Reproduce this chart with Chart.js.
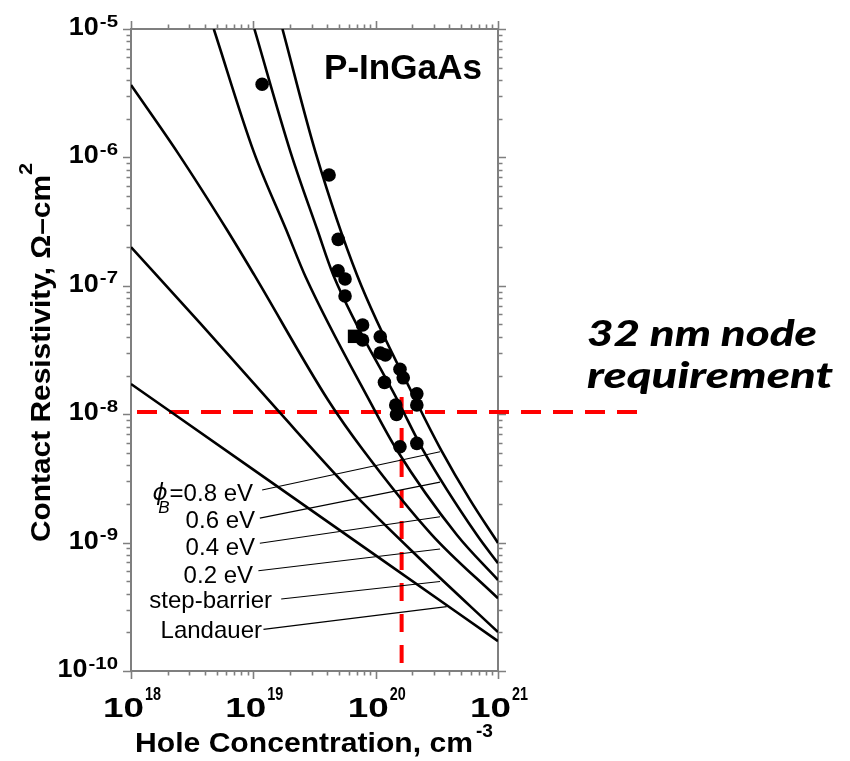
<!DOCTYPE html>
<html>
<head>
<meta charset="utf-8">
<script src="https://cdn.jsdelivr.net/npm/chart.js@4/dist/chart.umd.min.js"></script>
<style>
  html, body { margin: 0; padding: 0; background: #fff; }
</style>
</head>
<body>
<canvas id="chart" width="850" height="761"></canvas>
<script>
// hole concentration (cm^-3) and contact resistivity (ohm-cm^2)
const landauerN   = [1e18, 1e19, 1e20, 1e21];
const landauerRho = [1.72e-8, 3.70e-9, 7.96e-10, 1.71e-10];

const stepN   = [1e18, 3.67e18, 1.60e19, 6.18e19, 2.31e20, 1e21];
const stepRho = [2.0e-7, 5.13e-8, 1.06e-8, 2.57e-9, 7.45e-10, 2.01e-10];

const phi02N   = [1e18, 2.42e18, 6.10e18, 1.02e19, 4.08e19, 7.89e19, 2.88e20, 1e21];
const phi02Rho = [3.66e-6, 1.08e-6, 2.72e-7, 1.21e-7, 1.29e-8, 5.26e-9, 1.15e-9, 3.68e-10];

const phi04N   = [4.75e18, 1.01e19, 1.86e19, 2.69e19, 9.29e19, 1.49e20, 4.60e20, 1e21];
const phi04Rho = [1e-5, 1.10e-6, 2.72e-7, 1.16e-7, 1.18e-8, 5.26e-9, 1.15e-9, 5.11e-10];

const phi06N   = [1.02e19, 2.02e19, 3.34e19, 4.51e19, 1.58e20, 2.44e20, 6.71e20, 1e21];
const phi06Rho = [1e-5, 1.09e-6, 2.72e-7, 1.21e-7, 1.18e-8, 5.26e-9, 1.15e-9, 6.9e-10];

const phi08N   = [1.73e19, 3.23e19, 7.05e19, 2.22e20, 3.43e20, 5.91e20, 1e21];
const phi08Rho = [1e-5, 1.09e-6, 1.21e-7, 1.18e-8, 5.26e-9, 2.15e-9, 9.93e-10];

// measured contacts
const measN   = [1.18e19, 4.16e19, 4.94e19, 4.93e19, 5.62e19, 5.62e19, 7.82e19, 7.82e19, 1.09e20, 1.09e20,
                 1.20e20, 1.58e20, 1.68e20, 1.18e20, 2.17e20, 1.46e20, 2.17e20, 1.48e20, 1.58e20, 2.17e20];
const measRho = [3.71e-6, 7.30e-7, 2.30e-7, 1.31e-7, 1.13e-7, 8.33e-8, 4.95e-8, 3.78e-8, 4.01e-8, 3.00e-8,
                 2.89e-8, 2.24e-8, 1.92e-8, 1.77e-8, 1.44e-8, 1.18e-8, 1.18e-8, 9.95e-9, 5.58e-9, 5.93e-9];
const squareN   = [6.72e19];
const squareRho = [4.04e-8];

// 32 nm node requirement
const reqRho = 1.04e-8;
const reqN = 1.63e20;
const reqLineN = [1e18, 1.53e22];
const reqLineRho = [1.36e-8, 1.15e-10];

// curve labels and their leader lines
const curveLabels = ['=0.8 eV', '0.6 eV', '0.4 eV', '0.2 eV', 'step-barrier', 'Landauer'];
const leaderFromN   = [1.18e19, 1.13e19, 1.13e19, 1.10e19, 1.69e19, 1.21e19];
const leaderFromRho = [2.57e-9, 1.55e-9, 9.87e-10, 6.04e-10, 3.64e-10, 2.11e-10];
const leaderToN     = [3.36e20, 3.36e20, 3.36e20, 3.36e20, 3.36e20, 3.81e20];
const leaderToRho   = [5.10e-9, 2.96e-9, 1.59e-9, 8.91e-10, 4.98e-10, 3.17e-10];

const xTickExps = [18, 19, 20, 21];
const yTickExps = [-10, -9, -8, -7, -6, -5];

const FONT = '"Liberation Sans", Arial, "DejaVu Sans", sans-serif';
const pts = (xs, ys) => xs.map((v, i) => ({ x: v, y: ys[i] }));

function curve(xs, ys) {
  return {
    data: pts(xs, ys), showLine: true, borderColor: '#000', borderWidth: 2.6,
    pointRadius: 0, cubicInterpolationMode: 'monotone', fill: false
  };
}

const leaders = curveLabels.map((l, i) => ({
  data: [{ x: leaderFromN[i], y: leaderFromRho[i] }, { x: leaderToN[i], y: leaderToRho[i] }],
  showLine: true, borderColor: '#000', borderWidth: 1.1, pointRadius: 0
}));

// draw text squeezed/stretched into a given width
function fitText(ctx, text, left, base, font, width) {
  ctx.save();
  ctx.font = font;
  const w = ctx.measureText(text).width;
  ctx.translate(left, base);
  ctx.scale(width ? width / w : 1, 1);
  ctx.textAlign = 'left';
  ctx.textBaseline = 'alphabetic';
  ctx.fillText(text, 0, 0);
  ctx.restore();
}

const frame = {
  id: 'frame',
  beforeDatasetsDraw(chart) {
    const { ctx, chartArea: a, scales: { x, y } } = chart;
    ctx.save();
    ctx.strokeStyle = '#7f7f7f';
    ctx.lineWidth = 1.6;
    ctx.beginPath();
    for (let e = 18; e <= 21; e++) {
      for (let m = 1; m <= 9; m++) {
        const v = m * Math.pow(10, e);
        if (v > 1e21 * 1.0001) break;
        const px = Math.round(x.getPixelForValue(v)) + 0.5;
        const len = m === 1 ? 8 : 4.5;
        ctx.moveTo(px, a.bottom); ctx.lineTo(px, a.bottom + len);
        ctx.moveTo(px, a.top); ctx.lineTo(px, a.top - len);
      }
    }
    for (let e = -10; e <= -5; e++) {
      for (let m = 1; m <= 9; m++) {
        const v = m * Math.pow(10, e);
        if (v > 1e-5 * 1.0001) break;
        const py = Math.round(y.getPixelForValue(v)) + 0.5;
        const len = m === 1 ? 8 : 4.5;
        ctx.moveTo(a.left, py); ctx.lineTo(a.left - len, py);
        ctx.moveTo(a.right, py); ctx.lineTo(a.right + len, py);
      }
    }
    ctx.stroke();
    ctx.lineWidth = 2;
    ctx.strokeRect(a.left, a.top, a.right - a.left, a.bottom - a.top);
    ctx.restore();
  },
  afterDatasetsDraw(chart) {
    const { ctx, chartArea: a, scales: { x, y } } = chart;
    ctx.save();
    ctx.fillStyle = '#000';

    // y tick labels 10^n
    yTickExps.forEach(e => {
      const py = y.getPixelForValue(Math.pow(10, e));
      const s = String(e);
      ctx.font = 'bold 17px ' + FONT;
      const sw = ctx.measureText(s).width * 1.2;
      const supLeft = a.left - 13 - sw;
      fitText(ctx, s, supLeft, py - 2.5, 'bold 17px ' + FONT, sw);
      fitText(ctx, '10', supLeft - 31, py + 6, 'bold 26px ' + FONT, 30);
    });

    // x tick labels 10^n
    xTickExps.forEach(e => {
      const px = x.getPixelForValue(Math.pow(10, e));
      const s = String(e);
      const left = px - 28;
      fitText(ctx, '10', left, a.bottom + 46, 'bold 28px ' + FONT, 41);
      fitText(ctx, s, left + 42, a.bottom + 29, 'bold 18px ' + FONT, 16);
    });

    // axis titles
    fitText(ctx, 'Hole Concentration, cm', 135, 752, 'bold 27px ' + FONT, 338);
    fitText(ctx, '-3', 476, 737, 'bold 18px ' + FONT, 17);

    ctx.save();
    ctx.translate(50, 0);
    ctx.rotate(-Math.PI / 2);
    fitText(ctx, 'Contact Resistivity, \u03A9\u2013cm', -542, 0, 'bold 27px ' + FONT, 367);
    fitText(ctx, '2', -175, -18, 'bold 18px ' + FONT, 12);
    ctx.restore();

    // panel title
    fitText(ctx, 'P-InGaAs', 324, 79, 'bold 35px ' + FONT, 158);

    // curve labels
    const right = [253, 255, 255, 253, 272, 262];
    const base = [501, 528, 555, 583, 608, 638];
    ctx.font = '24px ' + FONT;
    ctx.textAlign = 'right';
    ctx.textBaseline = 'alphabetic';
    curveLabels.forEach((t, i) => ctx.fillText(t, right[i], base[i]));
    const eqLeft = right[0] - ctx.measureText(curveLabels[0]).width;
    ctx.font = 'italic 17px ' + FONT;
    ctx.fillText('B', eqLeft, base[0] + 12);
    ctx.font = 'oblique 23px "DejaVu Sans"';
    ctx.fillText('\u03D5', eqLeft - 2, base[0] - 1);

    // requirement note outside the axes
    ctx.textAlign = 'left';
    fitText(ctx, '32 nm node', 587, 346, 'italic 900 36px Lato, "Open Sans", sans-serif', 230);
    fitText(ctx, 'requirement', 587, 388, 'italic 900 36px Lato, "Open Sans", sans-serif', 246);
    ctx.restore();
  }
};

new Chart(document.getElementById('chart'), {
  type: 'scatter',
  data: {
    datasets: [
      curve(phi08N, phi08Rho),
      curve(phi06N, phi06Rho),
      curve(phi04N, phi04Rho),
      curve(phi02N, phi02Rho),
      curve(stepN, stepRho),
      curve(landauerN, landauerRho),
      ...leaders,
      {
        data: pts(measN, measRho), pointRadius: 6.8, pointBackgroundColor: '#000',
        pointBorderWidth: 0, pointStyle: 'circle'
      },
      {
        data: pts(squareN, squareRho), pointRadius: 9.5, pointBackgroundColor: '#000',
        pointBorderWidth: 0, pointStyle: 'rect'
      },
      {
        data: [{ x: reqLineN[0], y: reqRho }, { x: reqLineN[1], y: reqRho }],
        showLine: true, borderColor: '#ff0000', borderWidth: 4, pointRadius: 0,
        borderDash: [20, 12], borderDashOffset: 26, clip: false
      },
      {
        data: [{ x: reqN, y: reqLineRho[0] }, { x: reqN, y: reqLineRho[1] }],
        showLine: true, borderColor: '#ff0000', borderWidth: 4, pointRadius: 0,
        borderDash: [18, 13]
      }
    ]
  },
  options: {
    responsive: false,
    animation: false,
    layout: { padding: { left: 131, right: 352, top: 29, bottom: 90 } },
    plugins: { legend: { display: false }, tooltip: { enabled: false } },
    scales: {
      x: { type: 'logarithmic', min: 1e18, max: 1e21, display: false },
      y: { type: 'logarithmic', min: 1e-10, max: 1e-5, display: false }
    }
  },
  plugins: [frame]
});
</script>
</body>
</html>
